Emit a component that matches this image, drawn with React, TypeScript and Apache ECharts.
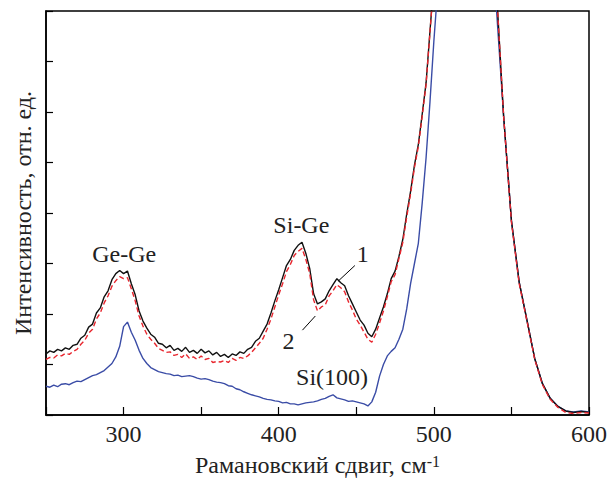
import React, { useEffect, useRef } from 'react';
import * as echarts from 'echarts';

// Raman shift, cm^-1
const shift = [
  250, 252.5, 255, 257.5, 260, 262.5, 265, 267.5, 270, 272.5,
  275, 277.5, 280, 282.5, 285, 287.5, 290, 292.5, 295, 297.5,
  300, 302.5, 305, 307.5, 310, 312.5, 315, 317.5, 320, 322.5,
  325, 327.5, 330, 332.5, 335, 337.5, 340, 342.5, 345, 347.5,
  350, 352.5, 355, 357.5, 360, 362.5, 365, 367.5, 370, 372.5,
  375, 377.5, 380, 382.5, 385, 387.5, 390, 392.5, 395, 397.5,
  400, 402.5, 405, 407.5, 410, 412.5, 415, 417.5, 420, 422.5,
  425, 427.5, 430, 432.5, 435, 437.5, 440, 442.5, 445, 447.5,
  450, 452.5, 455, 457.5, 460, 462.5, 465, 467.5, 470, 472.5,
  475, 477.5, 480, 482.5, 485, 487.5, 490, 492.5, 495, 497.5,
  500,
  505, 510, 515, 520, 525, 530, 535, 540, 545, 550,
  555, 560, 565, 570, 575, 580, 585, 590, 595, 600,
];

// curve 1 (black, solid)
const sample1 = [
  1.21, 1.27, 1.24, 1.30, 1.27, 1.33, 1.30, 1.38, 1.40, 1.52,
  1.58, 1.74, 1.80, 2.02, 2.12, 2.34, 2.46, 2.68, 2.80, 2.86,
  2.80, 2.85, 2.60, 2.38, 2.06, 1.86, 1.72, 1.60, 1.54, 1.42,
  1.40, 1.33, 1.38, 1.28, 1.32, 1.26, 1.34, 1.24, 1.28, 1.22,
  1.30, 1.23, 1.27, 1.19, 1.24, 1.16, 1.20, 1.14, 1.21, 1.18,
  1.25, 1.22, 1.30, 1.34, 1.46, 1.52, 1.66, 1.80, 2.02, 2.26,
  2.48, 2.72, 2.96, 3.08, 3.26, 3.36, 3.42, 3.20, 2.90, 2.40,
  2.20, 2.24, 2.30, 2.46, 2.58, 2.70, 2.62, 2.56, 2.36, 2.20,
  2.04, 1.88, 1.78, 1.62, 1.55, 1.70, 1.92, 2.14, 2.40, 2.70,
  2.85, 3.14, 3.48, 3.98, 4.43, 4.95, 5.36, 5.96, 6.58, 7.60,
  8.6,
  11, 14, 17, 19, 18, 15, 11.5, 8.6, 5.9, 3.85,
  2.63, 1.88, 1.12, 0.62, 0.33, 0.17, 0.08, 0.05, 0.07, 0.05,
];

// curve 2 (red, dashed)
const sample2 = [
  1.10, 1.14, 1.13, 1.19, 1.17, 1.22, 1.20, 1.26, 1.30, 1.40,
  1.48, 1.62, 1.70, 1.90, 2.02, 2.22, 2.36, 2.55, 2.66, 2.74,
  2.70, 2.72, 2.50, 2.26, 1.96, 1.76, 1.60, 1.50, 1.42, 1.32,
  1.28, 1.24, 1.25, 1.18, 1.20, 1.14, 1.21, 1.12, 1.15, 1.10,
  1.17, 1.10, 1.12, 1.04, 1.06, 1.05, 1.08, 1.04, 1.12, 1.08,
  1.14, 1.12, 1.17, 1.24, 1.33, 1.42, 1.52, 1.70, 1.90, 2.14,
  2.38, 2.60, 2.84, 2.98, 3.16, 3.24, 3.30, 3.08, 2.80, 2.28,
  2.06, 2.14, 2.18, 2.36, 2.46, 2.58, 2.52, 2.44, 2.24, 2.08,
  1.90, 1.78, 1.64, 1.50, 1.44, 1.60, 1.82, 2.06, 2.34, 2.64,
  2.78, 3.10, 3.42, 3.92, 4.38, 4.90, 5.32, 5.92, 6.55, 7.58,
  8.6,
  11, 14, 17, 19, 18, 15, 11.5, 8.6, 5.9, 3.82,
  2.60, 1.86, 1.10, 0.60, 0.31, 0.15, 0.05, 0.03, 0.05, 0.04,
];

// Si(100) substrate (blue)
const si100 = [
  0.57, 0.55, 0.59, 0.56, 0.61, 0.62, 0.60, 0.64, 0.67, 0.66,
  0.70, 0.74, 0.78, 0.80, 0.84, 0.88, 0.95, 1.02, 1.15, 1.36,
  1.75, 1.84, 1.64, 1.48, 1.28, 1.12, 1.02, 0.94, 0.90, 0.86,
  0.84, 0.82, 0.81, 0.78, 0.79, 0.76, 0.77, 0.78, 0.76, 0.73,
  0.71, 0.72, 0.70, 0.67, 0.65, 0.64, 0.62, 0.58, 0.57, 0.52,
  0.50, 0.46, 0.43, 0.40, 0.38, 0.36, 0.33, 0.31, 0.30, 0.28,
  0.27, 0.24, 0.25, 0.22, 0.22, 0.20, 0.22, 0.24, 0.25, 0.26,
  0.28, 0.31, 0.33, 0.37, 0.40, 0.34, 0.32, 0.30, 0.27, 0.28,
  0.26, 0.24, 0.22, 0.18, 0.26, 0.45, 0.77, 1.00, 1.17, 1.26,
  1.33, 1.50, 1.70, 2.10, 2.60, 3.00, 3.40, 4.20, 5.10, 6.20,
  7.40,
  9.5, 13, 16.5, 18.5, 17.5, 14.5, 11, 8.2, 5.9, 3.85,
  2.63, 1.88, 1.12, 0.62, 0.33, 0.17, 0.08, 0.06, 0.08, 0.06,
];

const xLabelsShown = [300, 400, 500, 600];

// annotations: text labels at data coordinates
const labelTexts = ['Ge-Ge', 'Si-Ge', '1', '2', 'Si(100)'];
const labelX = [300.4, 414.6, 454.2, 406.3, 434.4];
const labelY = [3.18, 3.77, 3.18, 1.46, 0.75];

// leader lines in data coordinates
const leaderFrom = [[449.1, 2.96], [415.3, 1.68]];
const leaderTo = [[438.3, 2.65], [423.6, 1.96]];

const FONT = 'Liberation Serif';
const FS = 24;
const TXT = '#222';

export default function App() {
  const ref = useRef<HTMLDivElement>(null);

  useEffect(() => {
    if (!ref.current) return;
    const chart = echarts.init(ref.current, undefined, { renderer: 'svg' });
    const pairs = (ys: number[]) => shift.map((x, i) => [x, ys[i]]);

    chart.setOption({
      animation: false,
      backgroundColor: '#fff',
      textStyle: { fontFamily: FONT },
      grid: {
        left: 46, right: 16, top: 11, bottom: 66,
        show: true, borderColor: '#000', borderWidth: 1.5,
      },
      xAxis: {
        type: 'value', min: 250, max: 600, interval: 50,
        name: '{a|Рамановский сдвиг, см}{b|-1}',
        nameLocation: 'middle', nameGap: 38,
        nameTextStyle: {
          rich: {
            a: { fontFamily: FONT, fontSize: FS, color: TXT },
            b: { fontFamily: FONT, fontSize: 16, color: TXT, verticalAlign: 'top' },
          },
        },
        axisLine: { show: true, onZero: false, lineStyle: { color: '#000', width: 1.5 } },
        axisTick: { show: true, inside: true, length: 8, lineStyle: { color: '#000', width: 1.2 } },
        splitLine: { show: false },
        axisLabel: {
          margin: 7, fontFamily: FONT, fontSize: FS, color: TXT,
          formatter: (v: number) => (xLabelsShown.includes(v) ? String(v) : ''),
        },
      },
      yAxis: {
        type: 'value', min: 0, max: 8, interval: 1,
        name: 'Интенсивность, отн. ед.',
        nameLocation: 'middle', nameGap: 11, nameRotate: 90,
        nameTextStyle: { fontFamily: FONT, fontSize: FS, color: TXT },
        axisLine: { show: true, lineStyle: { color: '#000', width: 1.5 } },
        axisTick: { show: true, inside: true, length: 7, lineStyle: { color: '#000', width: 1.2 } },
        splitLine: { show: false },
        axisLabel: { show: false },
      },
      series: [
        {
          type: 'line', data: pairs(si100), showSymbol: false, clip: true,
          lineStyle: { color: '#3a4ca6', width: 1.4 },
        },
        {
          type: 'line', data: pairs(sample1), showSymbol: false, clip: true,
          lineStyle: { color: '#111', width: 1.4 },
        },
        {
          type: 'line', data: pairs(sample2), showSymbol: false, clip: true,
          lineStyle: { color: '#e8262e', width: 1.4, type: [5, 3] },
        },
      ],
    });

    const px = (x: number, y: number) => chart.convertToPixel({ gridIndex: 0 }, [x, y]) as number[];
    const graphics: any[] = [];
    labelTexts.forEach((t, i) => {
      const p = px(labelX[i], labelY[i]);
      graphics.push({
        type: 'text', x: p[0], y: p[1], z: 100,
        style: { text: t, fontFamily: FONT, fontSize: FS, fill: TXT, align: 'center', verticalAlign: 'middle' },
      });
    });
    leaderFrom.forEach((f, i) => {
      const a = px(f[0], f[1]);
      const b = px(leaderTo[i][0], leaderTo[i][1]);
      graphics.push({
        type: 'line', z: 100,
        shape: { x1: a[0], y1: a[1], x2: b[0], y2: b[1] },
        style: { stroke: '#000', lineWidth: 1 },
      });
    });
    chart.setOption({ graphic: graphics });

    return () => chart.dispose();
  }, []);

  return (
    <div
      ref={ref}
      style={{ position: 'absolute', left: 0, top: 0, width: 610, height: 482 }}
    />
  );
}
